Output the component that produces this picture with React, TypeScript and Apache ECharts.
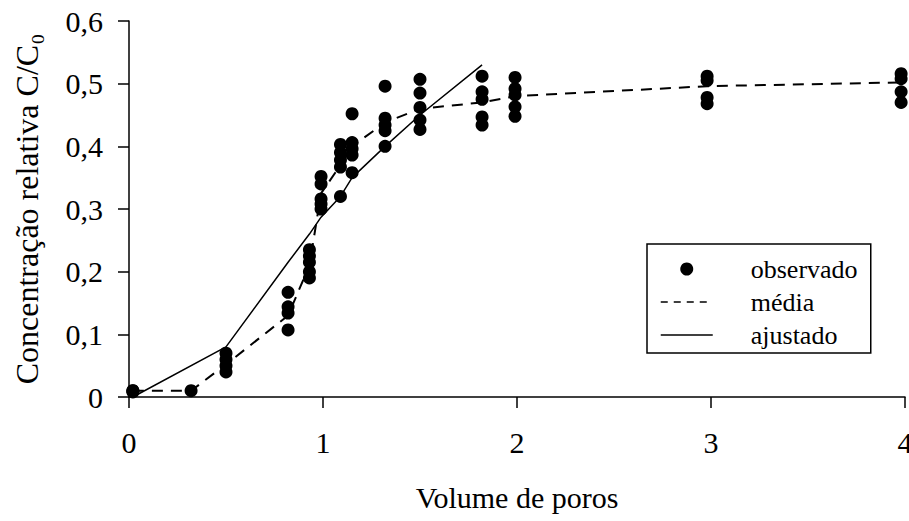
import React, { useEffect, useRef } from "react";
import * as echarts from "echarts";

const FONT = "Liberation Serif";

// Observed values: x positions (pore volumes) and the measured C/C0 at each
const obsX = [0.02, 0.32, 0.5, 0.82, 0.93, 0.99, 1.09, 1.15, 1.32, 1.5, 1.82, 1.99, 2.98, 3.98];
const obsY = [
  [0.01, 0.01, 0.008],
  [0.01],
  [0.07, 0.06, 0.05, 0.04],
  [0.167, 0.144, 0.134, 0.107],
  [0.235, 0.225, 0.215, 0.2, 0.19],
  [0.352, 0.34, 0.316, 0.308, 0.3],
  [0.403, 0.39, 0.378, 0.367, 0.32],
  [0.452, 0.406, 0.396, 0.386, 0.358],
  [0.496, 0.445, 0.434, 0.425, 0.4],
  [0.507, 0.485, 0.462, 0.442, 0.427],
  [0.512, 0.487, 0.475, 0.447, 0.434],
  [0.51, 0.492, 0.482, 0.463, 0.448],
  [0.512, 0.505, 0.478, 0.468],
  [0.516, 0.508, 0.487, 0.47],
];

// Mean curve ("média")
const meanX = [0.02, 0.32, 0.5, 0.82, 0.93, 0.99, 1.09, 1.15, 1.32, 1.5, 1.82, 1.99, 2.98, 3.98];
const meanY = [0.01, 0.01, 0.052, 0.13, 0.21, 0.325, 0.37, 0.4, 0.438, 0.46, 0.47, 0.48, 0.496, 0.502];

// Fitted curve ("ajustado")
const fitX = [0.02, 0.5, 0.82, 0.93, 0.99, 1.09, 1.15, 1.32, 1.5, 1.82];
const fitY = [0.0, 0.08, 0.215, 0.26, 0.287, 0.32, 0.35, 0.4, 0.45, 0.53];

const xTicks = [0, 1, 2, 3, 4];
const yTicks = [0, 0.1, 0.2, 0.3, 0.4, 0.5, 0.6];

export default function App() {
  const ref = useRef<HTMLDivElement>(null);

  useEffect(() => {
    if (!ref.current) return;
    const chart = echarts.init(ref.current, null, { renderer: "svg" });

    const scatterData: number[][] = [];
    obsX.forEach((x, i) => obsY[i].forEach((y) => scatterData.push([x, y])));
    const meanData = meanX.map((x, i) => [x, meanY[i]]);
    const fitData = fitX.map((x, i) => [x, fitY[i]]);

    chart.setOption({
      animation: false,
      backgroundColor: "#ffffff",
      textStyle: { fontFamily: FONT, color: "#000" },
      grid: {
        left: 129,
        right: 4,
        top: 21,
        bottom: 124,
        containLabel: false,
        outerBoundsMode: "none",
      },
      xAxis: {
        type: "value",
        min: xTicks[0],
        max: xTicks[xTicks.length - 1],
        interval: 1,
        name: "Volume de poros",
        nameLocation: "middle",
        nameGap: 85,
        nameTextStyle: { fontFamily: FONT, fontSize: 30, color: "#000" },
        axisLine: { show: true, onZero: false, lineStyle: { color: "#000", width: 1.5 } },
        axisTick: { show: true, inside: false, length: 11, lineStyle: { color: "#000", width: 1.5 } },
        axisLabel: { fontFamily: FONT, fontSize: 30, color: "#000", margin: 30 },
        splitLine: { show: false },
      },
      yAxis: {
        type: "value",
        min: yTicks[0],
        max: yTicks[yTicks.length - 1],
        interval: 0.1,
        name: "Concentração relativa C/C₀",
        nameLocation: "middle",
        nameGap: 86,
        nameRotate: 90,
        nameTextStyle: { fontFamily: FONT, fontSize: 32, color: "#000" },
        axisLine: { show: true, lineStyle: { color: "#000", width: 1.5 } },
        axisTick: { show: true, inside: false, length: 11, lineStyle: { color: "#000", width: 1.5 } },
        axisLabel: {
          fontFamily: FONT,
          fontSize: 30,
          color: "#000",
          margin: 26,
          formatter: (v: number) => (v === 0 ? "0" : v.toFixed(1).replace(".", ",")),
        },
        splitLine: { show: false },
      },
      legend: {
        orient: "vertical",
        left: 647,
        top: 244,
        padding: [12, 8, 5, 13],
        itemWidth: 52,
        itemHeight: 13,
        itemGap: 7,
        borderColor: "#000",
        borderWidth: 1.5,
        backgroundColor: "#fff",
        textStyle: {
          fontFamily: FONT,
          fontSize: 26,
          color: "#000",
          lineHeight: 26,
          width: 112,
          padding: [0, 0, 0, 33],
        },
        data: [
          { name: "observado", icon: "circle" },
          { name: "média", lineStyle: { type: [7, 6], width: 1.5 }, itemStyle: { opacity: 0 } },
          { name: "ajustado", lineStyle: { width: 1.5 }, itemStyle: { opacity: 0 } },
        ],
      },
      series: [
        {
          name: "observado",
          type: "scatter",
          data: scatterData,
          symbol: "circle",
          symbolSize: 13,
          itemStyle: { color: "#000", opacity: 1 },
          z: 2,
        },
        {
          name: "média",
          type: "line",
          data: meanData,
          symbol: "none",
          showSymbol: false,
          lineStyle: { color: "#000", width: 2, type: [11, 8] },
          itemStyle: { color: "#000" },
          z: 3,
        },
        {
          name: "ajustado",
          type: "line",
          data: fitData,
          symbol: "none",
          showSymbol: false,
          lineStyle: { color: "#000", width: 1.5, type: "solid" },
          itemStyle: { color: "#000" },
          z: 3,
        },
      ],
    });

    return () => chart.dispose();
  }, []);

  return (
    <div
      ref={ref}
      style={{ position: "fixed", left: 0, top: 0, width: 909, height: 521, background: "#fff" }}
    />
  );
}
